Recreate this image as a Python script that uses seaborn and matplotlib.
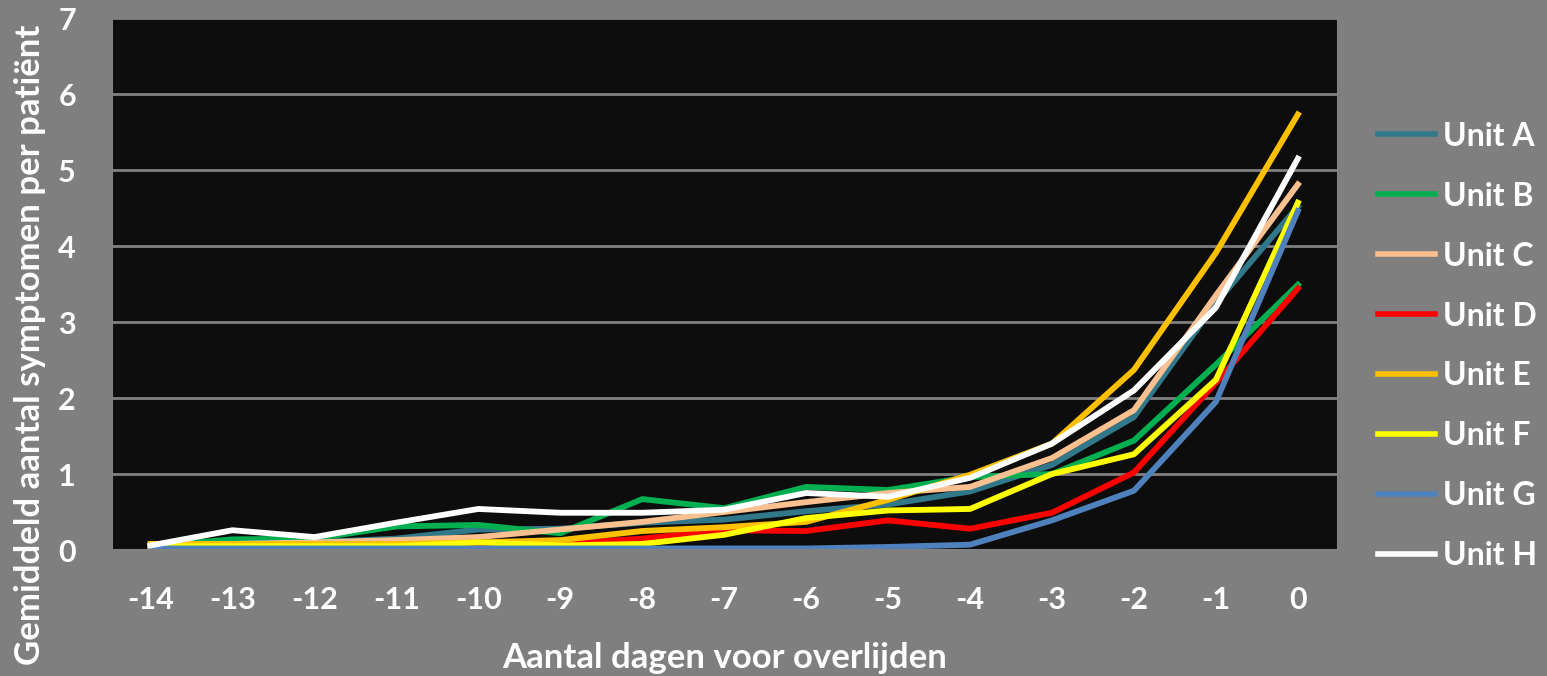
import pandas as pd
import numpy as np
import seaborn as sns
import matplotlib.pyplot as plt

#Days before death (x axis)
days = list(range(-14, 1))
day_labels = [str(d) for d in days]

#Mean number of symptoms per patient
unit_a = [0.05, 0.10, 0.10, 0.15, 0.27, 0.28, 0.36, 0.40, 0.51, 0.60, 0.77, 1.12, 1.75, 3.25, 4.52]
unit_b = [0.05, 0.14, 0.15, 0.31, 0.33, 0.22, 0.67, 0.55, 0.83, 0.79, 0.96, 1.00, 1.44, 2.44, 3.49]
unit_c = [0.05, 0.08, 0.10, 0.13, 0.17, 0.27, 0.37, 0.50, 0.63, 0.75, 0.83, 1.21, 1.84, 3.35, 4.81]
unit_d = [0.05, 0.05, 0.05, 0.05, 0.07, 0.08, 0.15, 0.26, 0.25, 0.39, 0.28, 0.49, 1.02, 2.20, 3.44]
unit_e = [0.08, 0.08, 0.08, 0.08, 0.10, 0.13, 0.25, 0.30, 0.37, 0.66, 0.99, 1.40, 2.37, 3.91, 5.73]
unit_f = [0.05, 0.05, 0.05, 0.05, 0.10, 0.06, 0.08, 0.20, 0.42, 0.52, 0.54, 1.00, 1.26, 2.24, 4.57]
unit_g = [0.02, 0.02, 0.02, 0.02, 0.02, 0.02, 0.02, 0.02, 0.02, 0.04, 0.07, 0.39, 0.78, 1.95, 4.46]
unit_h = [0.06, 0.26, 0.17, 0.36, 0.54, 0.49, 0.49, 0.53, 0.75, 0.70, 0.95, 1.40, 2.10, 3.19, 5.15]

units = ['Unit A', 'Unit B', 'Unit C', 'Unit D', 'Unit E', 'Unit F', 'Unit G', 'Unit H']
colors = ['#31798A', '#00B050', '#FAC090', '#FF0000', '#FFC000', '#FFFF00', '#4F81BD', '#FFFFFF']

#Long format for seaborn
series = [unit_a, unit_b, unit_c, unit_d, unit_e, unit_f, unit_g, unit_h]
df = pd.DataFrame({
    'dag': np.tile(days, len(units)),
    'waarde': np.concatenate(series),
    'unit': np.repeat(units, len(days)),
})

plt.rcParams['font.family'] = ['Lato', 'DejaVu Sans']
plt.rcParams['font.weight'] = 'bold'
plt.rcParams['axes.unicode_minus'] = False

fig = plt.figure(figsize=(15.47, 6.76), dpi=100, facecolor='#7F7F7F')
ax = fig.add_axes([112/1547, 1 - 550/676, (1338 - 112)/1547, (550 - 18)/676])
ax.set_facecolor('#0D0D0D')

sns.lineplot(data=df, x='dag', y='waarde', hue='unit', hue_order=units,
             palette=colors, linewidth=4.2, ax=ax, legend=True)

ax.set_xlim(-14.47, 0.49)
ax.set_ylim(0, 7)
ax.set_xticks(days, labels=day_labels, fontsize=22, fontweight='bold', color='white')
ax.set_yticks(range(0, 8), labels=[str(v) for v in range(0, 8)], fontsize=22, fontweight='bold', color='white')
ax.yaxis.grid(True, color='#808080', linewidth=2)
ax.set_axisbelow(True)
for s in ax.spines.values():
    s.set_color('#808080')
    s.set_linewidth(1.5)
ax.tick_params(axis='both', length=0)
ax.tick_params(axis='x', pad=26)
ax.tick_params(axis='y', pad=26)

ax.set_xlabel('Aantal dagen voor overlijden', color='white', fontsize=25, fontweight='bold')
ax.xaxis.set_label_coords(0.5, -0.222)
ax.xaxis.label.set_va('baseline')
ax.set_ylabel('')
fig.text(30/1547, 1 - 345/676, 'Gemiddeld aantal symptomen per patiënt', rotation=90,
         ha='center', va='center', color='white', fontsize=25, fontweight='bold')

handles, labels = ax.get_legend_handles_labels()
ax.get_legend().remove()
leg = fig.legend(handles, labels, loc='center left', bbox_to_anchor=(1349/1547, 1 - 346/676),
                 frameon=False, fontsize=23, handlelength=1.8, handletextpad=0.25, labelspacing=0.97)
for t in leg.get_texts():
    t.set_color('white')
    t.set_fontweight('bold')
for l in leg.get_lines():
    l.set_linewidth(4)

fig.savefig('out.png', dpi=100, facecolor=fig.get_facecolor())
